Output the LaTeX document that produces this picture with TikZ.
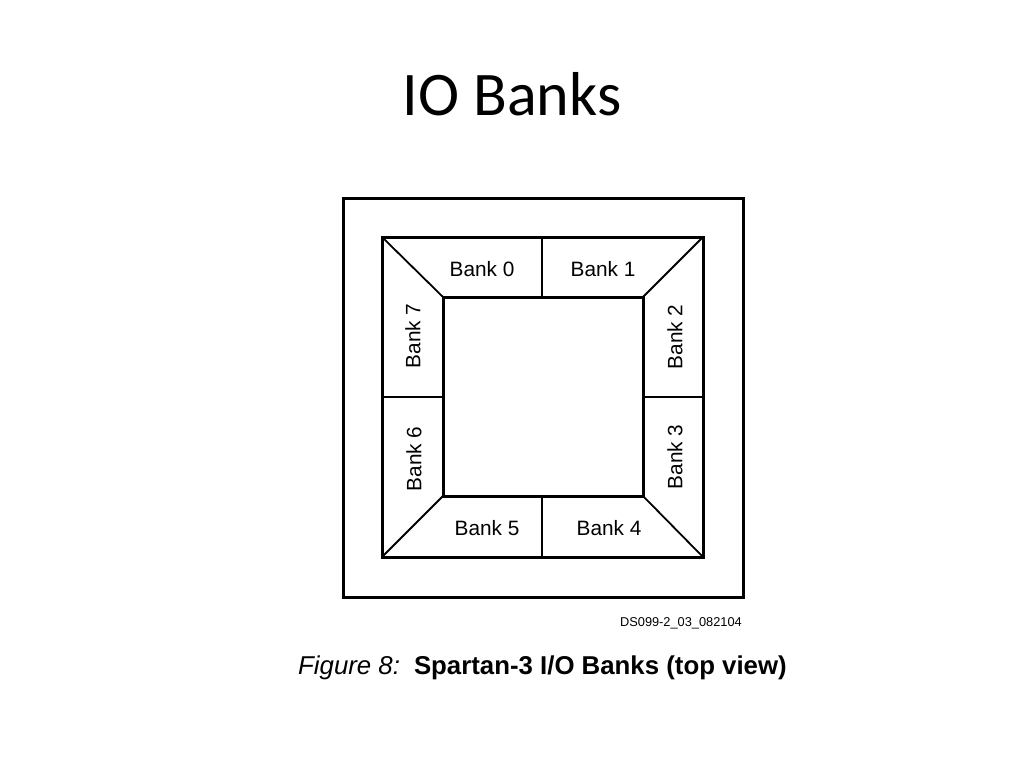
\documentclass[tikz,border=0pt]{standalone}
\usepackage{fontspec}
\setmainfont{Liberation Sans}
\newfontfamily\titlefont{Carlito}
\begin{document}
\begin{tikzpicture}[x=1pt,y=-1pt,
  frame/.style={draw=black,line width=3pt},
  divider/.style={draw=black,line width=2.6pt},
  diag/.style={draw=black,line width=1.8pt},
  banklabel/.style={font=\fontsize{20.8}{22}\selectfont,inner sep=0pt},
  banklabelv/.style={banklabel,rotate=90}]
\useasboundingbox[fill=white] (0,0) rectangle (1024,768);
% title
\node[font=\titlefont\fontsize{62}{66}\selectfont,anchor=base,inner sep=0pt] (title) at (512,115) {IO Banks};
% corners
\coordinate (o1) at (343,198); \coordinate (o2) at (743,597);
\coordinate (m1) at (382,237); \coordinate (m2) at (703,237);
\coordinate (m3) at (703,557); \coordinate (m4) at (382,557);
\coordinate (i1) at (443,297); \coordinate (i2) at (643,297);
\coordinate (i3) at (643,496); \coordinate (i4) at (443,496);
% diagonals
\draw[diag] (m1) -- (i1);
\draw[diag] (m2) -- (i2);
\draw[diag] (m3) -- (i3);
\draw[diag] (m4) -- (i4);
% dividers
\draw[divider] (542,237) -- (542,297);
\draw[divider] (542,496) -- (542,557);
\draw[divider] (382,397) -- (443,397);
\draw[divider] (643,397) -- (703,397);
% frames
\draw[frame] (o1) rectangle (o2);
\draw[frame] (m1) rectangle (m3);
\draw[frame] (i1) rectangle (i3);
% labels
\node[banklabel] (b0) at (482,269) {Bank 0};
\node[banklabel] (b1) at (603,269) {Bank 1};
\node[banklabelv] (b2) at (675,337) {Bank 2};
\node[banklabelv] (b3) at (675,457) {Bank 3};
\node[banklabel] (b4) at (609,528) {Bank 4};
\node[banklabel] (b5) at (487,528) {Bank 5};
\node[banklabelv] (b6) at (414,459) {Bank 6};
\node[banklabelv] (b7) at (413,336) {Bank 7};
% id
\node[font=\fontsize{12.8}{14}\selectfont,anchor=base east,inner sep=0pt] (dsid) at (742,626) {DS099-2\_03\_082104};
% caption
\node[font=\fontsize{25.8}{28}\selectfont,anchor=base west,inner sep=0pt] (caption) at (298,674) {\textit{Figure 8:}\hspace{14pt}\textbf{Spartan-3 I/O Banks (top view)}};
\end{tikzpicture}
\end{document}
